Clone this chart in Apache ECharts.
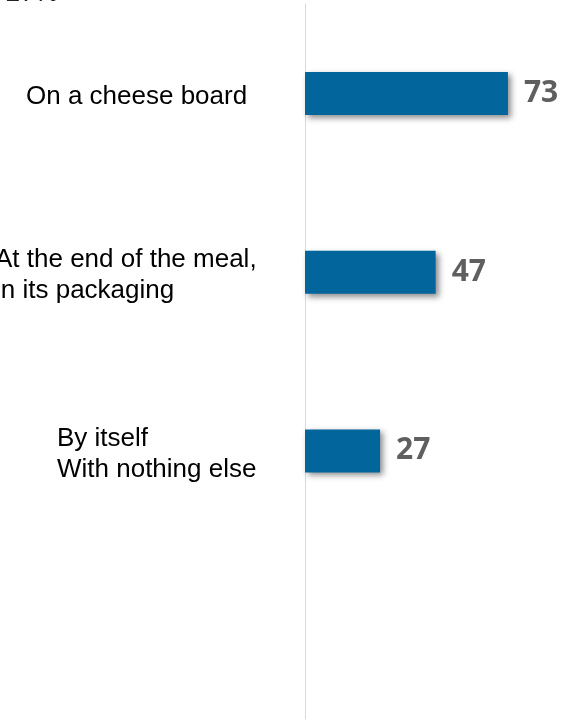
<!DOCTYPE html>
<html>
<head>
<meta charset="utf-8">
<script src="https://cdn.jsdelivr.net/npm/echarts@6/dist/echarts.min.js"></script>
<style>
html,body{margin:0;padding:0;background:#fff;}
#main{width:568px;height:721px;}
</style>
</head>
<body>
<div id="main"></div>
<script>
const categories = ['On a cheese board', 'At the end of the meal,\nin its packaging', 'By itself\nWith nothing else', ''];
const values = [73, 47, 27, null];
const labelStyles = ['l1', 'l2', 'l3', 'l2'];
const topNote = '27%';

const chart = echarts.init(document.getElementById('main'), null, {renderer: 'canvas'});
const option = {
  animation: false,
  backgroundColor: '#ffffff',
  grid: {left: 305, width: 278, top: 4, height: 715, outerBoundsMode: 'none', containLabel: false},
  xAxis: {type: 'value', min: 0, max: 100, show: false},
  yAxis: {
    type: 'category',
    inverse: true,
    data: categories,
    axisLine: {show: true, lineStyle: {color: '#d9d9d9', width: 1}},
    axisTick: {show: false},
    axisLabel: {
      margin: 310,
      align: 'left',
      padding: [7, 0, 0, 0],
      formatter: function (v, i) {
        const s = labelStyles[i];
        return v.split('\n').map(function (line) { return '{' + s + '|' + line + '}'; }).join('\n');
      },
      rich: {
        l1: {fontFamily: 'Liberation Sans, Arial', fontSize: 26, color: '#000', lineHeight: 31, padding: [0, 0, 0, 31]},
        l2: {fontFamily: 'Liberation Sans, Arial', fontSize: 26, color: '#000', lineHeight: 31, padding: [0, 0, 0, 0]},
        l3: {fontFamily: 'Liberation Sans, Arial', fontSize: 26, color: '#000', lineHeight: 31, padding: [0, 0, 0, 62]}
      }
    }
  },
  series: [{
    type: 'bar',
    data: values,
    barWidth: 43,
    itemStyle: {
      color: '#02659b',
      shadowBlur: 6,
      shadowColor: 'rgba(0,0,0,0.45)',
      shadowOffsetX: 3,
      shadowOffsetY: 3
    },
    label: {
      show: true,
      position: 'right',
      distance: 16,
      fontFamily: 'Open Sans',
      fontWeight: 'bold',
      fontSize: 30,
      color: '#5f5f5f'
    }
  }],
  graphic: [{
    type: 'text',
    x: 7,
    y: -6,
    style: {text: topNote, font: 'italic 26px "Liberation Sans", Arial', fill: '#222', verticalAlign: 'middle', align: 'left'}
  }]
};
chart.setOption(option);
</script>
</body>
</html>
